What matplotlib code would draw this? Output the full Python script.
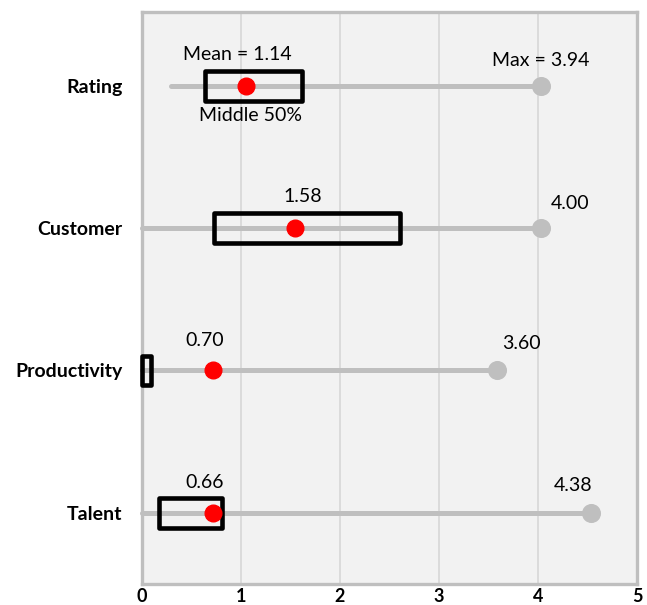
import matplotlib
matplotlib.use("Agg")
import matplotlib.pyplot as plt
from matplotlib.patches import Rectangle

plt.rcParams['font.family'] = ['Lato', 'DejaVu Sans']

categories = ["Rating", "Customer", "Productivity", "Talent"]
mins = [0.30, 0.0, 0.0, 0.0]
q1 = [0.64, 0.73, 0.0, 0.17]
q3 = [1.62, 2.61, 0.09, 0.81]
means = [1.05, 1.55, 0.72, 0.72]
maxs = [4.03, 4.03, 3.59, 4.54]
mean_labels = ["Mean = 1.14", "1.58", "0.70", "0.66"]
max_labels = ["Max = 3.94", "4.00", "3.60", "4.38"]
x_ticks = [0, 1, 2, 3, 4, 5]

# label offsets in pixels (style, not data)
mean_off = [(-8, 31), (8, 32), (-8, 30), (-8, 30)]
max_off = [(0, 25), (29, 25), (24, 27), (-18, 27)]

fig = plt.figure(figsize=(6.47, 6.05), dpi=100)
ax = fig.add_axes([141.7/647, 21/605, (637-141.7)/647, (584-11.7)/605])
ax.set_facecolor('#F2F2F2')

n = len(categories)
ys = [n - 1 - i for i in range(n)]

ax.set_xlim(0, 5)
ax.set_ylim(-0.5, 3.52)
ax.set_xticks(x_ticks)
ax.set_xticklabels([str(t) for t in x_ticks], fontsize=13, fontweight='bold')
ax.set_yticks(ys)
ax.set_yticklabels(categories, fontsize=14, fontweight='bold')
ax.tick_params(axis='x', length=0, pad=3)
ax.tick_params(axis='y', length=0, pad=14)
ax.xaxis.grid(True, color='#D9D9D9', linewidth=1.3)
ax.set_axisbelow(True)
for s in ax.spines.values():
    s.set_color('#BFBFBF')
    s.set_linewidth(2.4)

h = 0.105
for i in range(n):
    y = ys[i]
    ax.plot([mins[i], maxs[i]], [y, y], color='#BFBFBF', linewidth=3.6,
            solid_capstyle='round', zorder=2, clip_on=False)
    rect = Rectangle((q1[i], y - h), q3[i] - q1[i], 2 * h, fill=False,
                     edgecolor='black', linewidth=3.3, joinstyle='round',
                     zorder=3, clip_on=False)
    ax.add_patch(rect)

ax.plot(maxs, ys, 'o', color='#BFBFBF', markersize=12.7, zorder=3, clip_on=False)
ax.plot(means, ys, 'o', color='#FF0000', markersize=12, zorder=4, clip_on=False)

for i in range(n):
    y = ys[i]
    ax.annotate(mean_labels[i], (means[i], y), xytext=mean_off[i],
                textcoords='offset pixels', ha='center', va='center', fontsize=14)
    ax.annotate(max_labels[i], (maxs[i], y), xytext=max_off[i],
                textcoords='offset pixels', ha='center', va='center', fontsize=14)

ax.annotate("Middle 50%", ((q1[0] + q3[0]) / 2, ys[0]), xytext=(-3, -30),
            textcoords='offset pixels', ha='center', va='center', fontsize=14)

fig.savefig('out.png', dpi=100)
